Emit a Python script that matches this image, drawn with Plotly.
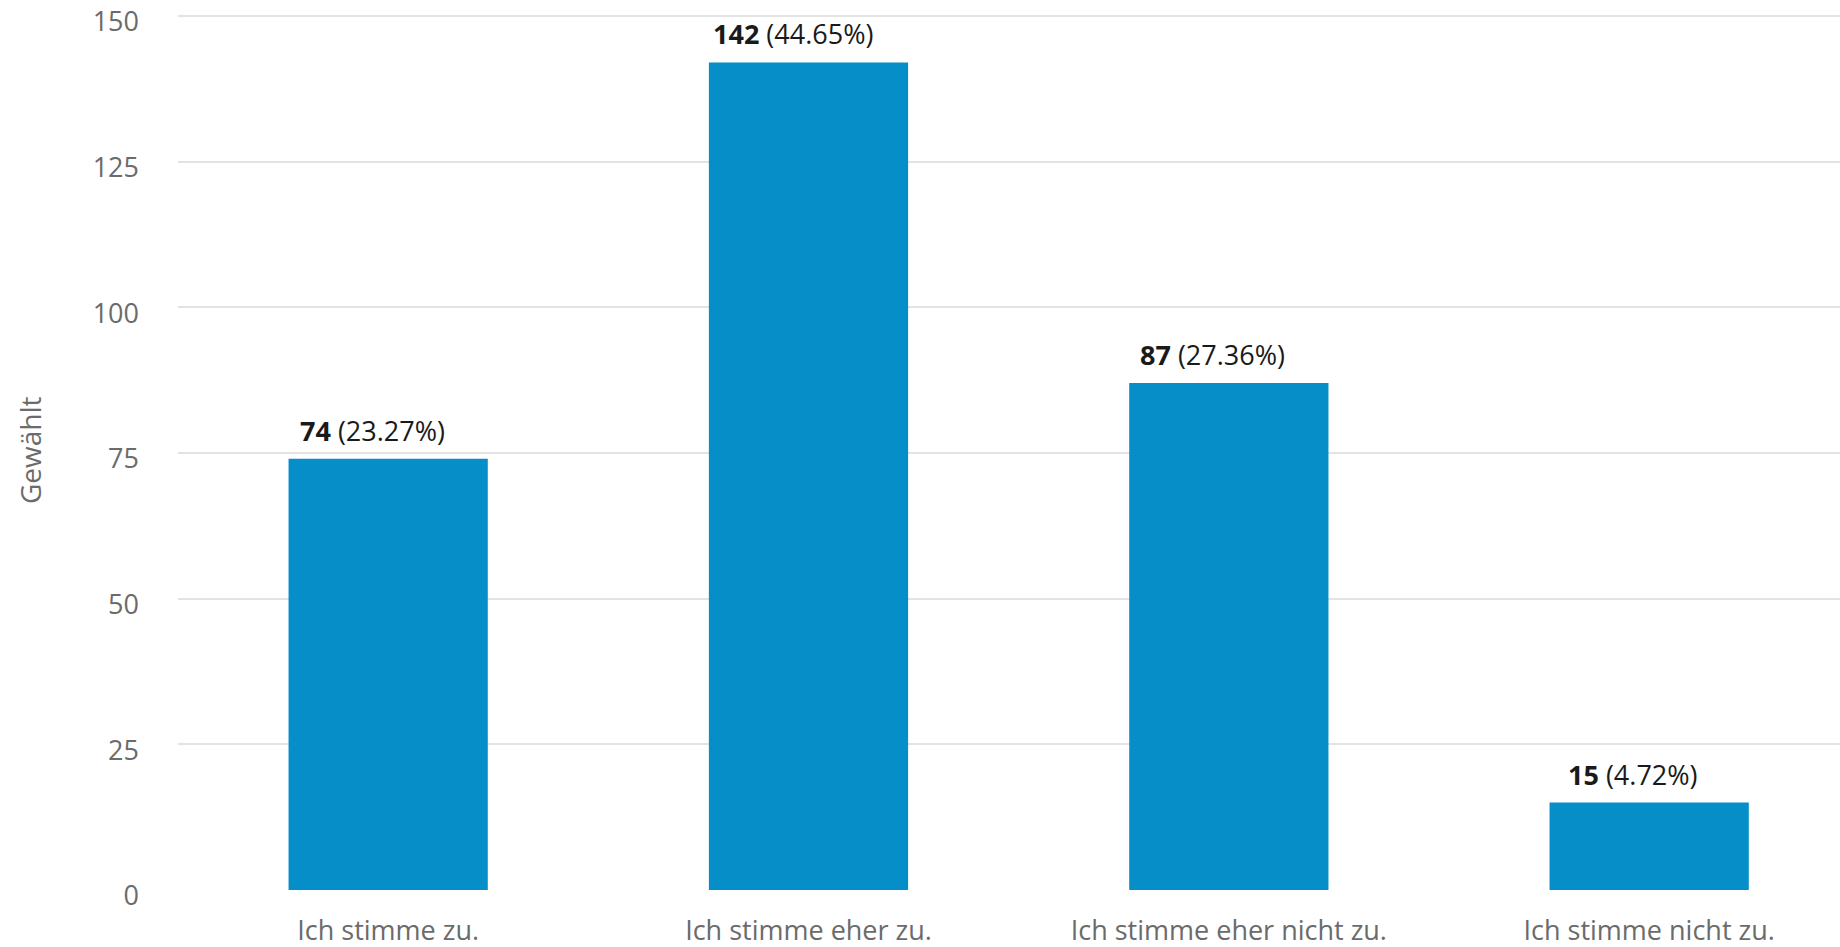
import plotly.graph_objects as go

categories = ["Ich stimme zu.", "Ich stimme eher zu.", "Ich stimme eher nicht zu.", "Ich stimme nicht zu."]
counts = [74, 142, 87, 15]
percents = ["23.27%", "44.65%", "27.36%", "4.72%"]
y_ticks = [0, 25, 50, 75, 100, 125, 150]
y_title = "Gewählt"

BAR = "#068ec8"
FONT = "Open Sans, Noto Sans, sans-serif"
W, H = 1840, 947
L, R, T, B = 178, 0, 10, 57

fig = go.Figure()
fig.add_trace(go.Bar(x=categories, y=counts, marker=dict(color=BAR, line=dict(width=0)),
                     width=0.474, hoverinfo="skip"))

for c, v, p in zip(categories, counts, percents):
    fig.add_annotation(x=c, y=v, xref="x", yref="y", text=f"<b>{v}</b> ({p})",
                       showarrow=False, yanchor="bottom", xanchor="center",
                       xshift=-16, yshift=8,
                       font=dict(family=FONT, size=27, color="#1a1a1a"))

fig.add_annotation(x=(30 - L) / (W - L - R), y=0.5, xref="paper", yref="paper",
                   text=y_title, textangle=-90, showarrow=False,
                   xanchor="center", yanchor="middle",
                   font=dict(family=FONT, size=28, color="#6b6b6b"))

fig.update_layout(
    width=W, height=H,
    margin=dict(l=L, r=R, t=T, b=B, autoexpand=False),
    paper_bgcolor="white", plot_bgcolor="white",
    showlegend=False,
    font=dict(family=FONT, size=27, color="#6b6b6b"),
    xaxis=dict(range=[-0.5, 3.454], showgrid=False, zeroline=False, showline=False,
               ticks="", ticklabelstandoff=22,
               tickfont=dict(family=FONT, size=27, color="#6b6b6b")),
    yaxis=dict(range=[0, 151], tickvals=y_ticks, showgrid=True, gridcolor="#e3e3e3",
               gridwidth=2, zeroline=False, showline=False, ticks="",
               ticklabelstandoff=38, ticklabelshift=6, ticklabeloverflow="allow",
               tickfont=dict(family=FONT, size=27, color="#6b6b6b")),
)

fig.write_html("out.html", config={"displayModeBar": False},
               post_script="document.body.style.margin='0';document.body.style.overflow='hidden';")
